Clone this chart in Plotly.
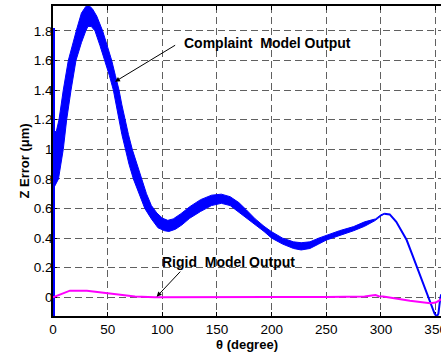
import numpy as np
import plotly.graph_objects as go

# ---- data ----
# Compliant model output: thick (rippled) band, upper / lower envelopes
upper_theta = [0.8, 3, 5.5, 9.4, 14, 18, 22, 26, 30, 33, 36, 40, 45.4, 50, 53.7, 57, 60.4, 63,
               65.9, 69, 72.5, 77, 81, 85.5, 90, 95, 100, 105, 110, 117, 125, 135, 145, 154,
               162, 170, 177, 185, 193, 200, 210, 220, 227, 235, 243, 250, 262, 275, 285, 290,
               295, 300, 303]
upper_v = [1.12, 1.12, 1.20, 1.40, 1.60, 1.72, 1.82, 1.92, 1.965, 1.97, 1.95, 1.90, 1.80, 1.69,
           1.60, 1.50, 1.40, 1.30, 1.20, 1.10, 1.00, 0.90, 0.80, 0.70, 0.62, 0.57, 0.535, 0.52,
           0.53, 0.565, 0.612, 0.66, 0.69, 0.697, 0.68, 0.64, 0.59, 0.53, 0.48, 0.443, 0.40,
           0.375, 0.369, 0.375, 0.40, 0.42, 0.45, 0.478, 0.51, 0.52, 0.53, 0.558, 0.567]
lower_theta = [0.8, 5, 7.5, 9.4, 12.5, 16.5, 21, 26, 30, 32, 35, 38.4, 43, 47.6, 51.5, 55.2, 58,
               60.4, 63, 65.9, 69.5, 73.5, 78.5, 84, 90, 96, 102, 106, 112, 118, 125, 135, 145,
               154, 162, 170, 177, 185, 193, 200, 210, 220, 227, 235, 243, 250, 262, 275, 285,
               290, 295, 300, 303]
lower_v = [0.74, 0.80, 0.90, 1.00, 1.20, 1.40, 1.60, 1.72, 1.80, 1.83, 1.83, 1.80, 1.70, 1.60,
           1.50, 1.40, 1.30, 1.20, 1.10, 1.00, 0.90, 0.80, 0.70, 0.60, 0.53, 0.47, 0.45, 0.445,
           0.46, 0.49, 0.534, 0.58, 0.62, 0.635, 0.62, 0.58, 0.54, 0.49, 0.445, 0.40, 0.36,
           0.33, 0.32, 0.33, 0.36, 0.387, 0.42, 0.45, 0.48, 0.50, 0.52, 0.55, 0.562]
# initial vertical jump at theta = 0
start_theta = [0, 0]
start_v = [-0.13, 1.82]
# thin tail of the compliant output
tail_theta = [303, 308, 314, 319, 323.5, 328, 332.6, 337, 341.7, 346, 349, 351, 352.5, 354, 355]
tail_v = [0.565, 0.56, 0.51, 0.45, 0.387, 0.30, 0.207, 0.12, 0.027, -0.06, -0.11, -0.13, -0.11,
          -0.02, 0.02]

# Rigid model output
rigid_theta = [0, 8, 15.5, 31, 50, 75, 93, 150, 200, 250, 285, 291.5, 295, 298, 302, 326.5,
               339, 345, 350, 354, 356]
rigid_v = [0.0, 0.025, 0.045, 0.045, 0.027, 0.005, 0.0, 0.003, 0.002, 0.003, 0.006, 0.012,
           0.015, 0.008, 0.005, -0.023, -0.033, -0.04, -0.035, -0.02, -0.01]

x_ticks = [0, 50, 100, 150, 200, 250, 300, 350]
y_ticks = [0, 0.2, 0.4, 0.6, 0.8, 1.0, 1.2, 1.4, 1.6, 1.8]
y_tick_text = ["0", "0.2", "0.4", "0.6", "0.8", "1", "1.2", "1.4", "1.6", "1.8"]

BLUE = "#0000ff"
MAGENTA = "#ff00ff"
FONT = "Liberation Sans, Arial, sans-serif"

band_x = np.concatenate([upper_theta, lower_theta[::-1]])
band_y = np.concatenate([upper_v, lower_v[::-1]])

fig = go.Figure()
fig.add_trace(go.Scatter(x=band_x, y=band_y, mode="lines", fill="toself",
                         fillcolor=BLUE, line=dict(color=BLUE, width=1),
                         hoverinfo="skip", showlegend=False))
fig.add_trace(go.Scatter(x=start_theta, y=start_v, mode="lines",
                         line=dict(color=BLUE, width=4), showlegend=False))
fig.add_trace(go.Scatter(x=tail_theta, y=tail_v, mode="lines",
                         line=dict(color=BLUE, width=2), showlegend=False))
fig.add_trace(go.Scatter(x=rigid_theta, y=rigid_v, mode="lines",
                         line=dict(color=MAGENTA, width=2), showlegend=False))

ann_font = dict(family=FONT, size=14, color="black")
fig.add_annotation(x=196, y=1.716, text="<b>Complaint  Model Output</b>", showarrow=False,
                   font=ann_font, xref="x", yref="y")
fig.add_annotation(x=56.7, y=1.457, ax=113.1, ay=1.709, axref="x", ayref="y", text="",
                   showarrow=True, arrowhead=2, arrowsize=1, arrowwidth=1, arrowcolor="black")
fig.add_annotation(x=160.4, y=0.236, text="<b>Rigid  Model Output</b>", showarrow=False,
                   font=ann_font, xref="x", yref="y")
fig.add_annotation(x=94.8, y=0.004, ax=117.7, ay=0.184, axref="x", ayref="y", text="",
                   showarrow=True, arrowhead=2, arrowsize=1, arrowwidth=1, arrowcolor="black")

grid = dict(showgrid=True, gridcolor="#606060", gridwidth=1, griddash="7px,4px")
fig.update_xaxes(range=[0, 354.9], tickvals=x_ticks, ticks="inside", ticklen=4,
                 tickcolor="black", showline=True, linecolor="black", linewidth=1.5,
                 mirror="ticks", zeroline=False, layer="below traces",
                 ticklabeloverflow="allow", automargin=False,
                 tickfont=dict(family=FONT, size=13.5, color="black"),
                 title=dict(text="<b>θ (degree)</b>", font=dict(family=FONT, size=13, color="black"),
                            standoff=4),
                 **grid)
fig.update_yaxes(range=[-0.126, 1.968], tickvals=y_ticks, ticktext=y_tick_text,
                 ticks="inside", ticklen=4, tickcolor="black", showline=True,
                 linecolor="black", linewidth=1.5, mirror=False, zeroline=False,
                 layer="below traces", ticklabelstandoff=-4, automargin=False,
                 tickfont=dict(family=FONT, size=13.5, color="black"),
                 title=dict(text="<b>Z Error (μm)</b>", font=dict(family=FONT, size=13, color="black"),
                            standoff=1),
                 **grid)
fig.update_layout(width=441, height=355, margin=dict(l=53, r=0, t=6, b=39, autoexpand=False),
                  plot_bgcolor="white", paper_bgcolor="white", showlegend=False)
fig.write_html("out.html")
